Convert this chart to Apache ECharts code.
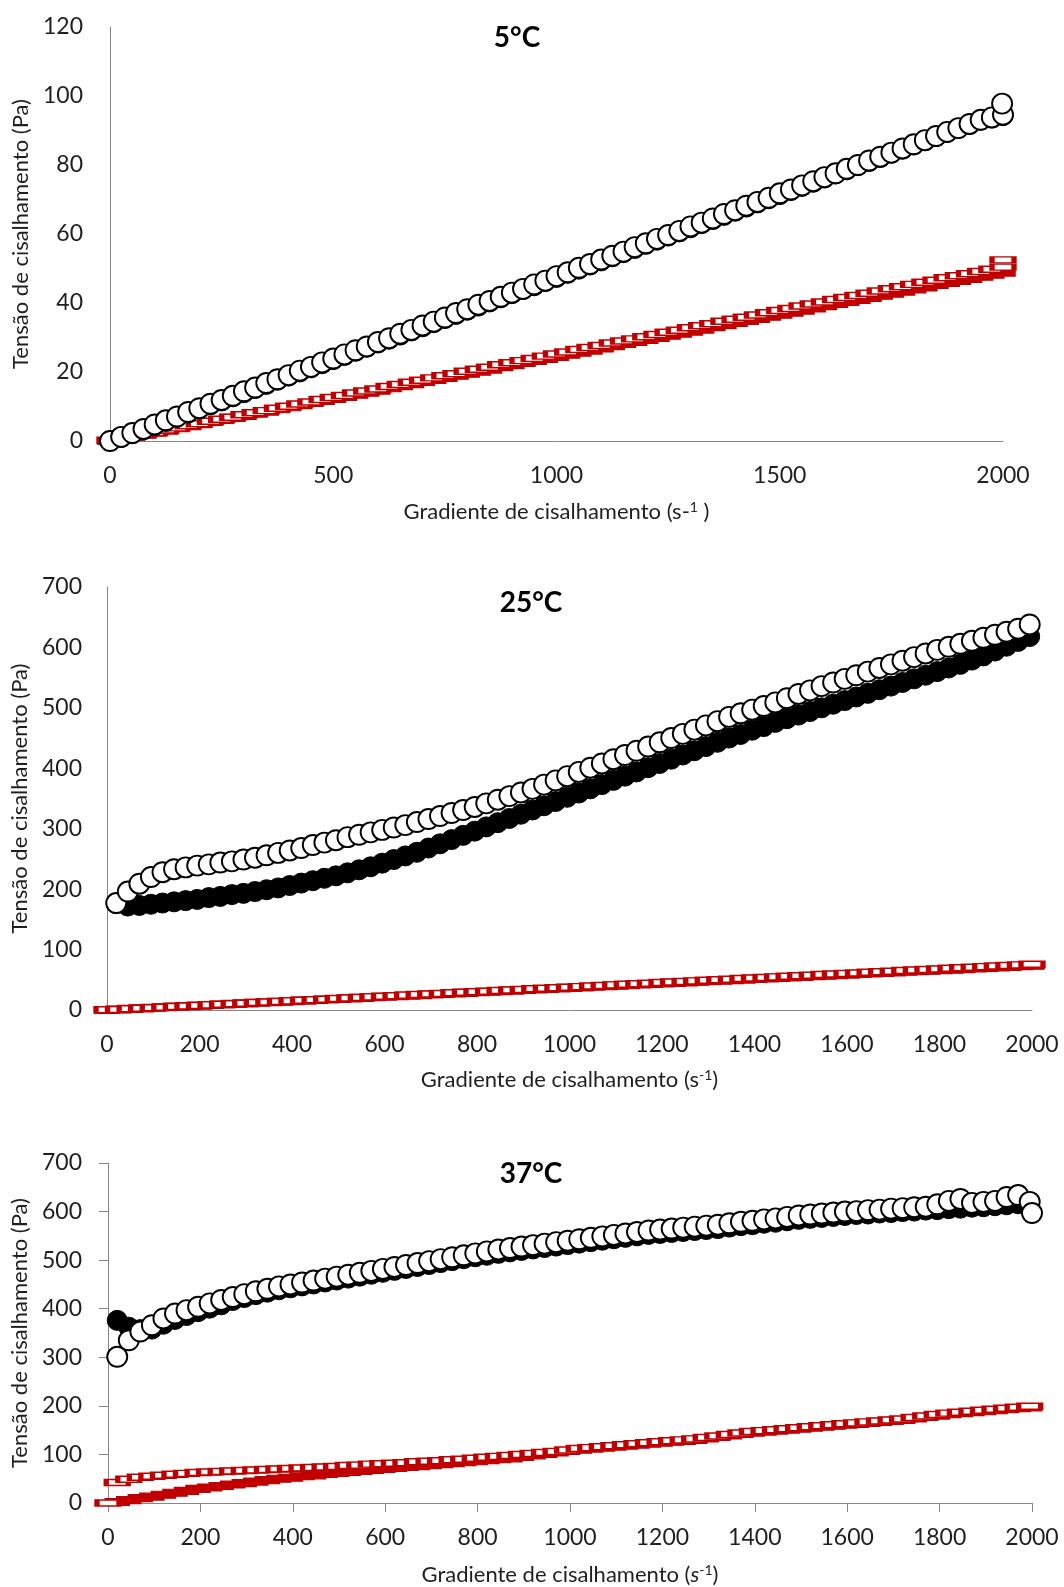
<!DOCTYPE html>
<html>
<head>
<meta charset="utf-8">
<script src="https://cdn.jsdelivr.net/npm/echarts@6/dist/echarts.min.js"></script>
<style>
html,body{margin:0;padding:0;background:#fff;}
#c{width:1064px;height:1587px;}
</style>
</head>
<body>
<div id="c"></div>
<script>
// ---------- shear rate grids (s^-1) ----------
const xA = [
  0,25,50,75,100,125,150,175,200,225,
  250,275,300,325,350,375,400,425,450,475,
  500,525,550,575,600,625,650,675,700,725,
  750,775,800,825,850,875,900,925,950,975,
  1000,1025,1050,1075,1100,1125,1150,1175,1200,1225,
  1250,1275,1300,1325,1350,1375,1400,1425,1450,1475,
  1500,1525,1550,1575,1600,1625,1650,1675,1700,1725,
  1750,1775,1800,1825,1850,1875,1900,1925,1950,1975,
  2000];
const xB = [
  20,45,70,95,120,145,170,195,220,245,
  270,295,320,345,370,395,420,445,470,495,
  520,545,570,595,620,645,670,695,720,745,
  770,795,820,845,870,895,920,945,970,995,
  1020,1045,1070,1095,1120,1145,1170,1195,1220,1245,
  1270,1295,1320,1345,1370,1395,1420,1445,1470,1495,
  1520,1545,1570,1595,1620,1645,1670,1695,1720,1745,
  1770,1795,1820,1845,1870,1895,1920,1945,1970,1995];

// ---------- 5 °C ----------
const blkOpen5 = [
  0.0,1.2,2.3,3.5,4.8,6.0,7.1,8.4,9.5,10.8,
  11.9,13.1,14.4,15.5,16.8,17.9,19.1,20.4,21.5,22.8,
  23.9,25.1,26.3,27.4,28.7,29.8,31.1,32.2,33.5,34.6,
  35.8,37.1,38.2,39.5,40.6,41.8,43.0,44.1,45.4,46.5,
  47.8,48.9,50.2,51.3,52.6,53.7,54.9,56.2,57.3,58.6,
  59.7,60.9,62.2,63.3,64.5,65.8,66.9,68.2,69.3,70.5,
  71.8,72.9,74.1,75.3,76.5,77.6,78.9,80.0,81.3,82.4,
  83.6,84.8,86.0,87.2,88.4,89.6,90.7,91.9,93.1,93.8,
  94.6];
const blkFill5 = [
  0.0,1.0,2.1,3.3,4.5,5.7,6.9,8.1,9.3,10.5,
  11.6,12.8,14.0,15.2,16.4,17.6,18.8,20.0,21.2,22.4,
  23.6,24.8,26.0,27.2,28.4,29.5,30.7,31.9,33.1,34.3,
  35.5,36.7,37.9,39.1,40.3,41.5,42.7,43.9,45.0,46.2,
  47.4,48.6,49.8,51.0,52.2,53.4,54.6,55.8,57.0,58.2,
  59.4,60.6,61.8,63.0,64.2,65.4,66.6,67.8,69.0,70.2,
  71.4,72.6,73.8,75.0,76.2,77.4,78.6,79.8,81.0,82.2,
  83.4,84.6,85.8,87.0,88.2,89.4,90.6,91.8,93.0,93.6,
  94.3];
const redOpen5 = [
  0.2,0.7,1.3,1.9,2.5,3.2,3.8,4.4,5.0,5.7,
  6.3,6.9,7.6,8.2,8.8,9.5,10.1,10.7,11.3,12.0,
  12.6,13.2,13.9,14.5,15.1,15.8,16.4,17.0,17.6,18.3,
  18.9,19.5,20.2,20.8,21.4,22.1,22.7,23.3,23.9,24.6,
  25.2,25.8,26.5,27.1,27.7,28.4,29.0,29.6,30.2,30.9,
  31.5,32.1,32.8,33.4,34.0,34.7,35.3,35.9,36.5,37.2,
  37.8,38.4,39.1,39.7,40.3,41.0,41.6,42.2,42.8,43.5,
  44.1,44.7,45.4,46.0,46.6,47.3,47.9,48.5,49.1,49.8,
  50.4];
const redFill5 = [
  0.0,0.6,1.2,1.8,2.4,3.0,3.7,4.3,4.9,5.5,
  6.1,6.7,7.3,7.9,8.5,9.2,9.8,10.4,11.0,11.6,
  12.2,12.8,13.4,14.0,14.6,15.3,15.9,16.5,17.1,17.7,
  18.3,18.9,19.5,20.1,20.7,21.4,22.0,22.6,23.2,23.8,
  24.4,25.0,25.6,26.2,26.8,27.5,28.1,28.7,29.3,29.9,
  30.5,31.1,31.7,32.3,33.0,33.6,34.2,34.8,35.4,36.0,
  36.6,37.2,37.8,38.4,39.1,39.7,40.3,40.9,41.5,42.1,
  42.7,43.3,43.9,44.5,45.2,45.8,46.4,47.0,47.6,48.2,
  48.8];
const endX5 = [1998, 2004];
const endBlk5 = [97.8, 95.6];
const endRedX5 = [2000, 2003];
const endRed5 = [52.5, 48.6];

// ---------- 25 °C ----------
const blkOpen25 = [
  177,196,209,220,228,233,236,239,241,244,
  246,249,252,256,260,264,268,273,277,281,
  286,290,294,298,302,306,311,316,321,326,
  331,336,342,348,354,360,366,373,380,387,
  394,401,408,415,422,429,436,443,450,457,
  464,471,478,485,491,497,503,509,516,523,
  529,536,542,548,554,560,566,572,578,584,
  590,596,601,606,611,616,621,626,631,638];
const blkFill25 = [
  176,172,173,175,177,179,181,183,186,188,
  191,193,196,199,202,206,210,214,218,222,
  227,232,237,243,249,255,261,268,275,282,
  289,296,303,310,317,324,331,338,345,352,
  359,366,373,380,387,394,401,408,415,422,
  429,436,443,450,456,463,469,476,482,488,
  494,500,506,512,518,524,530,536,542,548,
  554,560,566,572,579,586,594,602,610,618];
const endX25 = [2005];
const endBlk25 = [632];
const redOpen25 = [
  0.3,1.0,1.9,2.8,3.8,4.7,5.7,6.6,7.6,8.5,
  9.4,10.4,11.3,12.3,13.2,14.2,15.1,16.1,17.0,17.9,
  18.9,19.8,20.8,21.7,22.7,23.6,24.6,25.5,26.5,27.4,
  28.4,29.3,30.2,31.2,32.1,33.1,34.0,35.0,35.9,36.9,
  37.8,38.7,39.7,40.6,41.6,42.5,43.5,44.4,45.4,46.3,
  47.3,48.2,49.1,50.1,51.0,52.0,52.9,53.9,54.8,55.8,
  56.7,57.6,58.6,59.5,60.5,61.4,62.4,63.3,64.3,65.2,
  66.2,67.1,68.0,69.0,69.9,70.9,71.8,72.8,73.7,74.7,
  75.6];
const redFill25 = [
  0.0,0.9,1.8,2.7,3.7,4.6,5.5,6.4,7.3,8.2,
  9.2,10.1,11.0,11.9,12.8,13.7,14.6,15.6,16.5,17.4,
  18.3,19.2,20.1,21.0,22.0,22.9,23.8,24.7,25.6,26.5,
  27.5,28.4,29.3,30.2,31.1,32.0,33.0,33.9,34.8,35.7,
  36.6,37.5,38.4,39.4,40.3,41.2,42.1,43.0,43.9,44.9,
  45.8,46.7,47.6,48.5,49.4,50.3,51.3,52.2,53.1,54.0,
  54.9,55.8,56.7,57.7,58.6,59.5,60.4,61.3,62.2,63.2,
  64.1,65.0,65.9,66.8,67.7,68.6,69.6,70.5,71.4,72.3,
  73.2];

// ---------- 37 °C ----------
const blkOpen37 = [
  301,335,353,366,380,390,397,404,411,418,
  424,430,436,441,446,450,454,458,462,466,
  470,474,478,482,486,490,494,498,502,506,
  510,514,518,522,525,528,531,534,537,540,
  543,546,549,552,555,558,561,563,565,567,
  569,571,573,576,579,581,584,586,589,592,
  594,596,598,600,601,603,604,606,607,609,
  610,615,622,626,618,620,622,630,634,620];
const blkFill37 = [
  376,362,357,358,368,378,386,394,401,408,
  417,423,429,434,439,443,447,451,455,459,
  463,467,471,475,479,483,487,491,495,499,
  503,507,510,514,517,520,523,526,529,532,
  535,538,541,544,547,550,553,555,557,559,
  561,563,565,568,571,573,576,578,581,584,
  586,588,590,592,594,595,597,598,600,601,
  603,604,606,607,609,610,612,614,616,612];
const endX37 = [2000];
const endBlk37 = [597];
const xRedOpen37 = [0].concat(xB);
const redOpen37 = [
  0,
  42,49,53,55,57,59,61,63,64,65,
  66,67,68,69,70,71,72,73,74,75,
  77,78,80,81,82,83,85,86,87,89,
  90,92,94,96,98,100,102,104,106,109,
  112,114,116,118,120,122,124,126,128,130,
  132,135,138,141,144,147,149,151,153,155,
  157,159,161,163,165,167,169,171,173,176,
  179,182,185,187,189,191,193,195,197,199];
const redFill37 = [
  2,6,10,13,17,21,25,29,32,35,
  38,41,44,47,50,52,55,57,60,62,
  64,66,68,70,72,74,76,78,80,82,
  84,86,88,90,92,95,98,101,104,107,
  110,112,114,116,118,120,122,124,126,128,
  130,133,136,139,142,145,147,149,151,153,
  155,157,159,161,163,165,167,169,171,174,
  177,180,183,185,187,189,191,193,195,197];

// ---------- labels ----------
const panelTitles = ['5°C', '25°C', '37°C'];
const yName = 'Tensão de cisalhamento (Pa)';
const xNames = [
  '{t|Gradiente de cisalhamento (s-}{s|1}{t| )}',
  '{t|Gradiente de cisalhamento (s}{s|-1}{t|)}',
  '{t|Gradiente de cisalhamento (}{i|s}{s|-1}{t|)}'
];

// ---------- build ----------
const FONT = 'Lato, "Open Sans", sans-serif';
const RED = '#C00000';
const TXT = '#1f1f1f';
function pts(xs, ys) { return ys.map((y, i) => [xs[i], y]); }

const grids = [
  {left:110, top:27, width:893, height:414},
  {left:107, top:587, width:925, height:423},
  {left:108, top:1163, width:924, height:340}
];
const xCfg = [
  {max:2000, interval:500, ticks:false, gap:59},
  {max:2000, interval:200, ticks:false, gap:58},
  {max:2000, interval:200, ticks:true, gap:60}
];
const yCfg = [
  {max:120, interval:20, ticks:false, gap:74, margin:27},
  {max:700, interval:100, ticks:false, gap:71, margin:25},
  {max:700, interval:100, ticks:true, gap:72, margin:26}
];
const titlePos = [[517, 38], [531, 603], [531, 1174]];

const axisLine = {show:true, onZero:false, lineStyle:{color:'#868686', width:1}};
const xAxis = xCfg.map((c, i) => ({
  gridIndex:i, type:'value', min:0, max:c.max, interval:c.interval,
  axisLine, splitLine:{show:false},
  axisTick:{show:c.ticks, length:9, lineStyle:{color:'#868686'}},
  axisLabel:{fontSize:23, fontFamily:FONT, color:TXT, margin:23, formatter:v => String(v)},
  name:xNames[i], nameLocation:'middle', nameGap:c.gap,
  nameTextStyle:{rich:{
    t:{fontSize:22, fontFamily:FONT, color:TXT, lineHeight:24},
    i:{fontSize:22, fontFamily:FONT, color:TXT, fontStyle:'italic', lineHeight:24},
    s:{fontSize:14, fontFamily:FONT, color:TXT, verticalAlign:'top', lineHeight:14}
  }}
}));
const yAxis = yCfg.map((c, i) => ({
  gridIndex:i, type:'value', min:0, max:c.max, interval:c.interval,
  axisLine, splitLine:{show:false},
  axisTick:{show:c.ticks, length:9, lineStyle:{color:'#868686'}},
  axisLabel:{fontSize:23, fontFamily:FONT, color:TXT, margin:c.margin, formatter:v => String(v)},
  name:yName, nameLocation:'middle', nameRotate:90, nameGap:c.gap,
  nameTextStyle:{fontSize:22, fontFamily:FONT, color:TXT}
}));

function sc(i, data, kind, z) {
  const base = {type:'scatter', xAxisIndex:i, yAxisIndex:i, data, z, silent:true, animation:false};
  if (kind === 'openC') return Object.assign(base, {symbol:'circle', symbolSize:20,
    itemStyle:{color:'#fff', borderColor:'#000', borderWidth:1.9, opacity:1}});
  if (kind === 'fillC') return Object.assign(base, {symbol:'circle', symbolSize:20,
    itemStyle:{color:'#000', borderColor:'#000', borderWidth:1, opacity:1}});
  if (kind === 'openR') return Object.assign(base, {symbol:'rect', symbolSize:[22,6],
    itemStyle:{color:'#fff', borderColor:RED, borderWidth:2.8, opacity:1}});
  return Object.assign(base, {symbol:'rect', symbolSize:[22,7],
    itemStyle:{color:RED, borderColor:RED, borderWidth:2, opacity:1}});
}

const series = [
  sc(0, pts(xA, redFill5), 'fillR', 2),
  sc(0, pts(xA, redOpen5).concat(pts(endRedX5, endRed5)), 'openR', 3),
  sc(0, pts(xA, blkFill5), 'fillC', 4),
  sc(0, pts(xA, blkOpen5).concat(pts(endX5, endBlk5)), 'openC', 5),

  sc(1, pts(xA, redFill25), 'fillR', 2),
  sc(1, pts(xA, redOpen25), 'openR', 3),
  sc(1, pts(xB, blkFill25), 'fillC', 4),
  sc(1, pts(xB, blkOpen25).concat(pts(endX25, endBlk25)), 'openC', 5),

  sc(2, pts(xB, redFill37), 'fillR', 2),
  sc(2, pts(xRedOpen37, redOpen37), 'openR', 3),
  sc(2, pts(xB, blkFill37), 'fillC', 4),
  sc(2, pts(xB, blkOpen37).concat(pts(endX37, endBlk37)), 'openC', 5)
];

const graphic = panelTitles.map((t, i) => ({
  type:'text', x:titlePos[i][0], y:titlePos[i][1], silent:true,
  style:{text:t, fontSize:28, fontWeight:'bold', fontFamily:FONT, fill:'#000',
         align:'center', verticalAlign:'middle'}
}));

const chart = echarts.init(document.getElementById('c'), null, {renderer:'canvas', width:1064, height:1587});
chart.setOption({
  animation:false,
  backgroundColor:'#fff',
  grid: grids.map(g => Object.assign({containLabel:false, outerBoundsMode:'none'}, g)),
  xAxis, yAxis, series, graphic
});
</script>
</body>
</html>
